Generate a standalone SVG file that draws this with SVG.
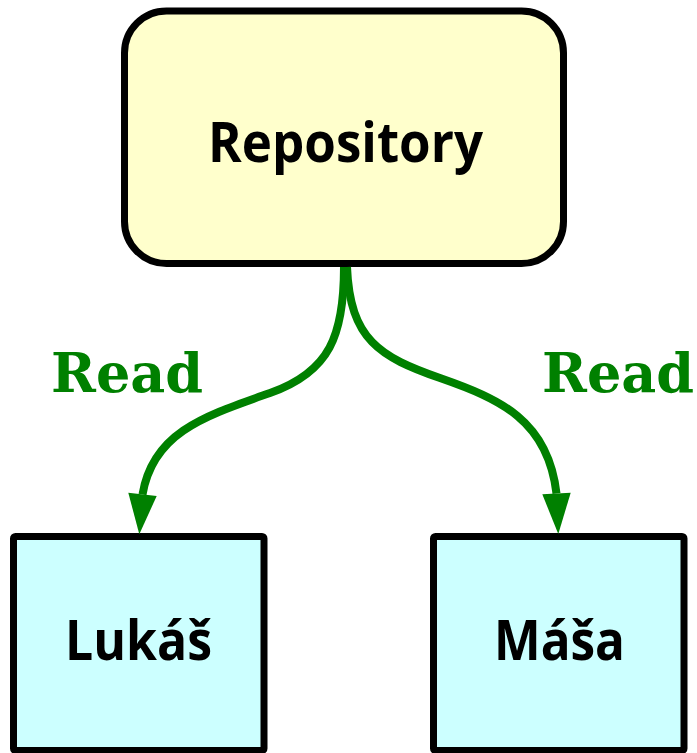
<svg xmlns="http://www.w3.org/2000/svg" width="697" height="753" viewBox="0 0 697 753">
  <style>
    .box { stroke: #000; stroke-width: 7; }
    .repo { fill: #ffffcc; }
    .person { fill: #ccffff; }
    .label { font-family: "Open Sans", "Liberation Sans", sans-serif; font-weight: 700; font-size: 55px; fill: #000; text-anchor: middle; }
    .edge { fill: none; stroke: #008000; stroke-width: 8; }
    .head { fill: #008000; stroke: none; }
    .edge-label { font-family: "DejaVu Serif", "Liberation Serif", serif; font-weight: bold; font-size: 54px; fill: #008000; text-anchor: middle; }
  </style>

  <g id="repository">
    <rect class="box repo" x="124.5" y="11" width="439" height="252.5" rx="42" ry="42"/>
    <text class="label" x="345.5" y="162" textLength="275" lengthAdjust="spacingAndGlyphs">Repository</text>
  </g>

  <g id="lukas">
    <rect class="box person" x="13.5" y="536.5" width="250.5" height="214" rx="2" ry="2"/>
    <text class="label" x="138.5" y="660" textLength="147" lengthAdjust="spacingAndGlyphs">Lukáš</text>
  </g>

  <g id="masa">
    <rect class="box person" x="433.5" y="536.5" width="250.5" height="214" rx="2" ry="2"/>
    <text class="label" x="559.5" y="660" textLength="131" lengthAdjust="spacingAndGlyphs">Máša</text>
  </g>

  <g id="connectors">
    <path class="edge" d="M344,267 C344,335 330,372 270,393 C205,416 153,432 142.5,494.5"/>
    <polygon class="head" points="128.3,492.7 156.7,496 139.3,534.3"/>
    <text class="edge-label" x="127" y="392">Read</text>

    <path class="edge" d="M347,267 C350,340 380,357 440,378 C500,399 548,420 556.5,493.5"/>
    <polygon class="head" points="542.3,494.3 570.7,492.7 558.3,534"/>
    <text class="edge-label" x="618" y="392">Read</text>
  </g>
</svg>
